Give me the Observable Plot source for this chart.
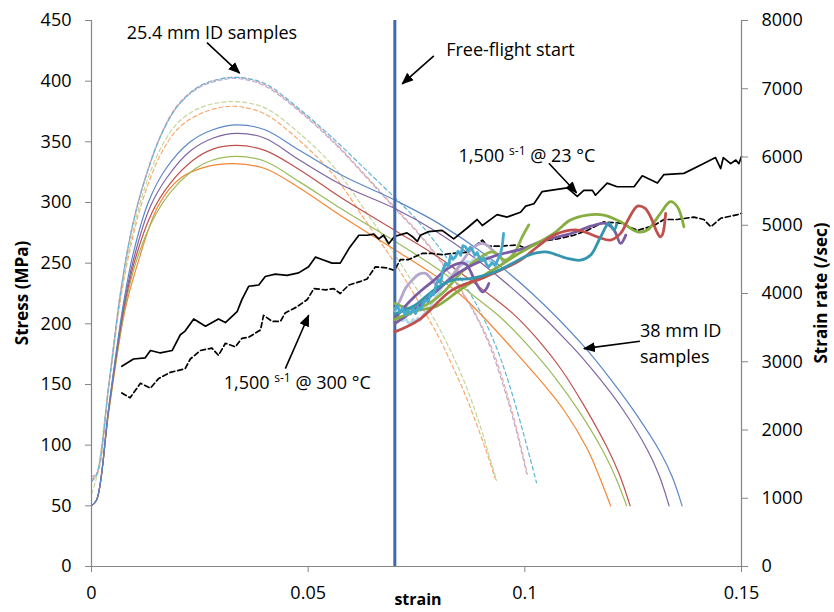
<!DOCTYPE html>
<html><head><meta charset="utf-8">
<script src="https://cdn.jsdelivr.net/npm/d3@7"></script>
<script src="https://cdn.jsdelivr.net/npm/@observablehq/plot@0.6"></script>
<style>body{margin:0;background:#fff;} svg{display:block;}</style>
</head><body><div id="chart"></div>
<script>
// ---- axes ----
const xTicks = [0, 0.05, 0.1, 0.15];
const stressTicks = [0, 50, 100, 150, 200, 250, 300, 350, 400, 450];
const rateTicks = [0, 1000, 2000, 3000, 4000, 5000, 6000, 7000, 8000];
const STRESS_MAX = 450, RATE_MAX = 8000;
const freeFlightStrain = [0.07];

// ---- stress curves, 38 mm ID samples (solid) [strain, MPa] ----
const blueSolid = [[0,50],[0.0012,55],[0.004,132],[0.0072,213],[0.0095,256],[0.0131,300],[0.017,327],[0.0228,350],[0.028,360],[0.0336,364],[0.04,360],[0.048,343],[0.058,322],[0.07,302],[0.08,283],[0.092,254],[0.102,224],[0.1135,182],[0.1203,152],[0.1256,126],[0.1313,94],[0.134,74],[0.1363,50]];
const purpleSolid = [[0,50],[0.0012,55],[0.004,131],[0.0073,212],[0.0097,253],[0.0135,296],[0.0175,321],[0.023,343],[0.028,353],[0.0335,357],[0.04,353],[0.048,335],[0.058,314],[0.07,295],[0.08,275],[0.09,250],[0.1,220],[0.111,181],[0.117,156],[0.1225,130],[0.1283,96],[0.131,75],[0.1333,50]];
const redSolid = [[0,50],[0.0012,55],[0.004,130],[0.0074,211],[0.0099,251],[0.014,292],[0.018,315],[0.0235,335],[0.028,344],[0.0335,347],[0.04,343],[0.048,327],[0.058,303],[0.07,277],[0.08,255],[0.09,229],[0.0974,208],[0.103,187],[0.1083,163],[0.1136,133],[0.119,98],[0.1218,76],[0.1243,50]];
const greenSolid = [[0,50],[0.0012,55],[0.004,129],[0.0075,210],[0.0101,249],[0.0145,288],[0.0186,310],[0.024,328],[0.028,335],[0.0333,338],[0.04,334],[0.048,317],[0.058,294],[0.07,268],[0.08,245],[0.0875,225],[0.0948,204],[0.1005,183],[0.1067,157],[0.1125,128],[0.1182,94],[0.121,73],[0.1235,50]];
const orangeSolid = [[0,50],[0.0012,55],[0.004,128],[0.0076,209],[0.0105,248],[0.0155,298],[0.0205,320],[0.026,329],[0.033,332],[0.04,328],[0.048,312],[0.058,288],[0.07,261],[0.08,238],[0.0855,223],[0.0906,205],[0.097,180],[0.1039,152],[0.109,129],[0.1144,97],[0.1172,74],[0.1198,50]];

// ---- stress curves, 25.4 mm ID samples (dashed) ----
const lightBlueDash = [[0,70],[0.0012,76],[0.004,150],[0.0068,228],[0.0093,278],[0.012,315],[0.016,355],[0.02,380],[0.025,396],[0.03,402],[0.0343,403],[0.04,398],[0.048,377],[0.056,352],[0.0636,326],[0.07,304],[0.075,286],[0.08,264],[0.0855,236],[0.09,208],[0.0935,180],[0.0965,149],[0.0995,112],[0.1027,69]];
const pinkDash = [[0,72],[0.0012,76],[0.004,151],[0.0068,229],[0.0093,279],[0.012,316],[0.016,356],[0.02,381],[0.025,396],[0.03,402],[0.0343,403],[0.04,397],[0.048,376],[0.056,350],[0.0636,321],[0.07,296],[0.075,277],[0.08,255],[0.0855,227],[0.0894,203],[0.0925,179],[0.0955,147],[0.098,115],[0.1006,76]];
const lavenderDash = [[0,74],[0.0012,77],[0.004,150],[0.0068,228],[0.0093,278],[0.012,315],[0.016,355],[0.02,380],[0.025,395],[0.03,401],[0.0343,402],[0.04,396],[0.048,375],[0.056,349],[0.0636,320],[0.07,295],[0.075,276],[0.08,254],[0.0855,226],[0.0892,203],[0.0922,179],[0.0952,147],[0.0978,115],[0.1004,77]];
const greenDash = [[0,60],[0.0012,74],[0.004,149],[0.0068,224],[0.0093,272],[0.012,309],[0.016,345],[0.02,366],[0.025,378],[0.03,382.5],[0.034,383],[0.04,378],[0.048,357],[0.056,329],[0.0636,291],[0.07,257],[0.075,229],[0.08,198],[0.0835,173],[0.0865,148],[0.0895,118],[0.0918,91],[0.0935,71]];
const orangeDash = [[0,72],[0.0012,75],[0.004,148],[0.0068,222],[0.0093,268],[0.012,304],[0.016,340],[0.02,361],[0.025,373],[0.03,378.5],[0.034,379],[0.04,373],[0.048,351],[0.056,322],[0.0636,283],[0.07,250],[0.075,221],[0.08,190],[0.0832,166],[0.0862,142],[0.089,116],[0.0913,93],[0.0932,72]];

// ---- reference 1,500 /s stress curves (black) ----
const black23C = [[0.0070,165],[0.0097,171],[0.0124,172],[0.0136,178],[0.0159,176],[0.0186,178],[0.0205,191],[0.0216,194],[0.0236,204],[0.0263,198],[0.0293,204],[0.0309,201],[0.0336,210],[0.0347,220],[0.0363,231],[0.0386,232],[0.0401,239],[0.0424,241],[0.0451,240],[0.0478,242],[0.0501,247],[0.0517,255],[0.0532,253],[0.0555,250],[0.0574,250],[0.0594,262],[0.0617,273],[0.0636,273],[0.0651,274],[0.0663,270],[0.0674,273],[0.0686,266],[0.0699,272],[0.0728,275],[0.0740,272],[0.0752,268],[0.0759,273],[0.0778,276],[0.0809,277],[0.0836,270],[0.0867,279],[0.0890,286],[0.0902,281],[0.0936,290],[0.0959,288],[0.0990,292],[0.1002,297],[0.1021,299],[0.1040,309],[0.1059,310],[0.1098,312],[0.1121,305],[0.1136,310],[0.1156,310],[0.1163,306],[0.1190,316],[0.1213,313],[0.1252,313],[0.1271,322],[0.1306,316],[0.1321,323],[0.1367,324],[0.1406,331],[0.1440,337],[0.1452,328],[0.1458,337],[0.1475,332],[0.1487,335],[0.1494,332],[0.15,338]];
const black300C = [[0.0070,143],[0.0089,139],[0.0113,151],[0.0136,147],[0.0155,155],[0.0182,160],[0.0216,163],[0.0228,171],[0.0251,178],[0.0278,180],[0.0293,174],[0.0309,184],[0.0332,181],[0.0347,188],[0.0363,189],[0.0390,195],[0.0397,207],[0.0417,202],[0.0436,202],[0.0447,209],[0.0474,214],[0.0498,220],[0.0513,229],[0.0540,228],[0.0559,229],[0.0574,225],[0.0594,232],[0.0621,235],[0.0636,237],[0.0655,247],[0.0682,246],[0.0699,244],[0.0713,253],[0.0732,253],[0.0763,258],[0.0786,258],[0.0809,257],[0.0832,258],[0.0867,259],[0.0902,269],[0.0914,264],[0.0944,264],[0.0982,265],[0.1006,262],[0.1036,268],[0.1075,270],[0.1113,273],[0.1144,277],[0.1182,284],[0.1221,283],[0.1260,277],[0.1298,281],[0.1321,286],[0.1352,286],[0.1390,288],[0.1413,286],[0.1429,280],[0.1452,287],[0.1491,290],[0.15,291]];

// ---- strain-rate curves after free-flight start [strain, 1/s] ----
const cyanRate = [[0.0700,3756],[0.0706,3820],[0.0712,3720],[0.0718,3790],[0.0724,3683],[0.0730,3760],[0.0736,3700],[0.0742,3780],[0.0748,3707],[0.0754,3800],[0.0760,3760],[0.0766,3860],[0.0771,3903],[0.0777,3880],[0.0783,4000],[0.0789,3980],[0.0794,4098],[0.0800,4200],[0.0806,4150],[0.0811,4350],[0.0817,4441],[0.0823,4400],[0.0829,4560],[0.0834,4500],[0.0840,4538],[0.0846,4620],[0.0852,4560],[0.0857,4700],[0.0863,4685],[0.0869,4620],[0.0874,4680],[0.0879,4636],[0.0885,4560],[0.0890,4600],[0.0894,4538],[0.0900,4480],[0.0906,4520],[0.0912,4420],[0.0917,4391],[0.0924,4450],[0.0932,4416],[0.0938,4500],[0.0944,4587],[0.0948,4700],[0.0951,4881]];
const paleBlueRate = [[0.0700,3760],[0.0705,3707],[0.0712,3640],[0.0718,3600],[0.0724,3640],[0.0730,3580],[0.0736,3561],[0.0742,3620],[0.0748,3580],[0.0753,3640],[0.0759,3609],[0.0765,3680],[0.0771,3720],[0.0777,3760],[0.0782,3805],[0.0788,3880],[0.0794,3940],[0.0800,4000],[0.0805,4049],[0.0811,4120],[0.0817,4160],[0.0822,4200],[0.0828,4244],[0.0836,4300],[0.0844,4360],[0.0851,4400],[0.0859,4441],[0.0867,4470],[0.0875,4450],[0.0882,4500],[0.0890,4489],[0.0898,4520],[0.0906,4500],[0.0913,4538],[0.0920,4480],[0.0928,4420],[0.0934,4380],[0.0940,4342]];
const lavenderRate = [[0.0700,3756],[0.0712,3900],[0.0725,4080],[0.0740,4196],[0.0755,4280],[0.0771,4294],[0.0786,4200],[0.0801,4098],[0.0816,4150],[0.0832,4244],[0.0848,4400],[0.0863,4538],[0.0882,4680],[0.0902,4734],[0.0915,4700],[0.0925,4636],[0.0944,4538],[0.0951,4441]];
const purpleShortRate = [[0.0700,3634],[0.0722,3800],[0.0745,3951],[0.0768,4080],[0.0791,4196],[0.0822,4367],[0.0853,4450],[0.0866,4420],[0.0875,4320],[0.0886,4171],[0.0902,4024],[0.0910,4060],[0.0917,4147]];
const purpleLongRate = [[0.0700,3560],[0.0745,3760],[0.0790,4000],[0.0835,4250],[0.0880,4420],[0.0935,4560],[0.0992,4650],[0.1045,4780],[0.1102,4870],[0.1155,4990],[0.1186,5028],[0.1206,4930],[0.1221,4734],[0.1233,4855]];
const redRate = [[0.0700,3437],[0.0755,3609],[0.0832,4049],[0.0909,4244],[0.0990,4490],[0.1029,4685],[0.1067,4855],[0.1121,4930],[0.1167,4831],[0.1198,4783],[0.1221,4881],[0.1240,5100],[0.1260,5281],[0.1277,5250],[0.1290,5125],[0.1305,4900],[0.1312,4831],[0.1317,4855],[0.1325,5175]];
const greenLongRate = [[0.0700,3620],[0.0755,3756],[0.0794,3805],[0.0855,4074],[0.0932,4367],[0.0990,4600],[0.1067,4881],[0.1105,5076],[0.1144,5150],[0.1182,5150],[0.1221,5051],[0.1260,4904],[0.1283,4930],[0.1313,5175],[0.1336,5345],[0.1352,5271],[0.1367,4978]];
const greenShortRate = [[0.0700,3854],[0.0722,3800],[0.0744,3781],[0.0778,3854],[0.0817,4049],[0.0855,4318],[0.0894,4514],[0.0925,4611],[0.0955,4489],[0.0975,4587],[0.0994,4831],[0.1009,5003]];
const tealRate = [[0.0700,3700],[0.0745,3820],[0.0790,4050],[0.0832,4196],[0.0878,4220],[0.0932,4318],[0.0971,4441],[0.1009,4563],[0.1048,4610],[0.1098,4514],[0.1129,4489],[0.1152,4563],[0.1175,4831],[0.1194,5028],[0.1206,4930],[0.1212,5018]];

// ---- annotations (data coordinates: strain, stress) ----
const labels = [
  {parts: ["25.4 mm ID samples"], x: 0.0279, y: 439.8, anchor: "middle"},
  {parts: ["Free-flight start"], x: 0.0968, y: 425.8, anchor: "middle"},
  {parts: ["1,500 ", "s-1", " @ 23 °C"], x: 0.1006, y: 337.8, anchor: "middle"},
  {parts: ["1,500 ", "s-1", " @ 300 °C"], x: 0.0476, y: 150.8, anchor: "middle"},
  {parts: ["38 mm ID"], x: 0.1267, y: 194.2, anchor: "start"},
  {parts: ["samples"], x: 0.1267, y: 172.2, anchor: "start"}
];
const arrows = [
  {x1: 0.02665, y1: 431.8, x2: 0.03418, y2: 406.6},
  {x1: 0.0790, y1: 420.9, x2: 0.0717, y2: 397.8},
  {x1: 0.10554, y1: 332.3, x2: 0.11194, y2: 308.0},
  {x1: 0.04473, y1: 163.1, x2: 0.05012, y2: 207.1},
  {x1: 0.12656, y1: 185.7, x2: 0.11363, y2: 179.6}
];

const toStress = r => r * STRESS_MAX / RATE_MAX;
const pts = a => a.map(([x, y]) => ({x, y}));
const ratePts = a => a.map(([x, r]) => ({x, y: toStress(r)}));

const thin = (data, stroke, dash) => Plot.line(pts(data), {x: "x", y: "y", stroke, strokeWidth: 1.2, curve: "catmull-rom", strokeDasharray: dash ? "4,3" : null});
const bold = (data, stroke, curve = "catmull-rom") => Plot.line(ratePts(data), {x: "x", y: "y", stroke, strokeWidth: 2.8, curve, strokeLinejoin: "round"});

const FONT = "'Open Sans', 'DejaVu Sans', sans-serif";
const AXIS = "#868686";

const chart = Plot.plot({
  width: 834, height: 612,
  marginLeft: 91, marginRight: 93, marginTop: 20, marginBottom: 46,
  style: {fontFamily: FONT, fontSize: "18px", color: "black", background: "white", overflow: "visible"},
  x: {domain: [0, 0.15], label: null},
  y: {domain: [0, STRESS_MAX], label: null},
  marks: [
    thin(orangeDash, "#F9A86B", true),
    thin(greenDash, "#C3D69B", true),
    thin(lavenderDash, "#B9A9D2", true),
    thin(pinkDash, "#E6AAA8", true),
    thin(lightBlueDash, "#5FB6D6", true),
    thin(orangeSolid, "#F58634"),
    thin(greenSolid, "#9BBB59"),
    thin(redSolid, "#C0504D"),
    thin(purpleSolid, "#8064A2"),
    thin(blueSolid, "#5B87C8"),
    Plot.line(pts(black23C), {x: "x", y: "y", stroke: "black", strokeWidth: 1.7}),
    Plot.line(pts(black300C), {x: "x", y: "y", stroke: "black", strokeWidth: 1.7, strokeDasharray: "5,3"}),
    Plot.ruleX(freeFlightStrain, {stroke: "#3E6AAA", strokeWidth: 3}),
    bold(paleBlueRate, "#B5DCE6", "linear"),
    bold(lavenderRate, "#B6A6CC"),
    bold(greenShortRate, "#8DB347"),
    bold(purpleShortRate, "#7A5CA4"),
    bold(purpleLongRate, "#7A5CA4"),
    bold(greenLongRate, "#86AE3E"),
    bold(redRate, "#C0504D"),
    bold(tealRate, "#3495AE"),
    bold(cyanRate, "#45AACB", "linear"),
    Plot.ruleY([0], {stroke: AXIS, strokeWidth: 1.2}),
    Plot.ruleX([0], {stroke: AXIS, strokeWidth: 1.2}),
    Plot.ruleX([0.15], {stroke: AXIS, strokeWidth: 1.2}),
    Plot.axisX(xTicks, {tickSize: 6, tickPadding: 14, stroke: AXIS, fill: "black", tickFormat: d => String(d), label: null}),
    Plot.axisY(stressTicks, {anchor: "left", tickSize: 6, tickPadding: 14, stroke: AXIS, fill: "black", label: null}),
    Plot.axisY(rateTicks.map(toStress), {anchor: "right", tickSize: 6, tickPadding: 14, stroke: AXIS, fill: "black", label: null, tickFormat: d => String(Math.round(d * RATE_MAX / STRESS_MAX))}),
    Plot.link(arrows, {x1: "x1", y1: "y1", x2: "x2", y2: "y2", stroke: "black", strokeWidth: 1.6, className: "annot-arrow"})
  ]
});

const svg = d3.select(chart);
const sx = chart.scale("x"), sy = chart.scale("y");

// filled arrowheads
svg.append("defs").append("marker")
  .attr("id", "ahead").attr("markerUnits", "userSpaceOnUse")
  .attr("markerWidth", 12).attr("markerHeight", 10)
  .attr("refX", 11).attr("refY", 5).attr("orient", "auto")
  .append("path").attr("d", "M0,0L12,5L0,10Z").attr("fill", "black");
svg.selectAll("g.annot-arrow path, g.annot-arrow line").attr("marker-end", "url(#ahead)");

// annotation texts
const ann = svg.append("g").attr("font-family", FONT).attr("font-size", 18).attr("fill", "black");
for (const l of labels) {
  const t = ann.append("text")
    .attr("x", sx.apply(l.x)).attr("y", sy.apply(l.y))
    .attr("dy", "0.35em").attr("text-anchor", l.anchor);
  if (l.parts.length === 1) t.text(l.parts[0]);
  else {
    t.append("tspan").text(l.parts[0]);
    t.append("tspan").attr("font-size", 12).attr("dy", -7).text(l.parts[1]);
    t.append("tspan").attr("dy", 7).text(l.parts[2]);
  }
}

// axis titles
const midY = (sy.apply(0) + sy.apply(STRESS_MAX)) / 2;
const titles = svg.append("g").attr("font-family", FONT).attr("font-weight", "bold").attr("font-size", 17).attr("fill", "black");
titles.append("text").attr("transform", `translate(22,${midY}) rotate(-90)`)
  .attr("text-anchor", "middle").attr("dy", "0.35em").text("Stress (MPa)");
titles.append("text").attr("transform", `translate(821,${midY}) rotate(-90)`)
  .attr("text-anchor", "middle").attr("dy", "0.35em").text("Strain rate (/sec)");
titles.append("text").attr("x", 418).attr("y", 605).attr("text-anchor", "middle").attr("font-size", 16).text("strain");

document.getElementById("chart").appendChild(chart);
</script>
</body></html>
